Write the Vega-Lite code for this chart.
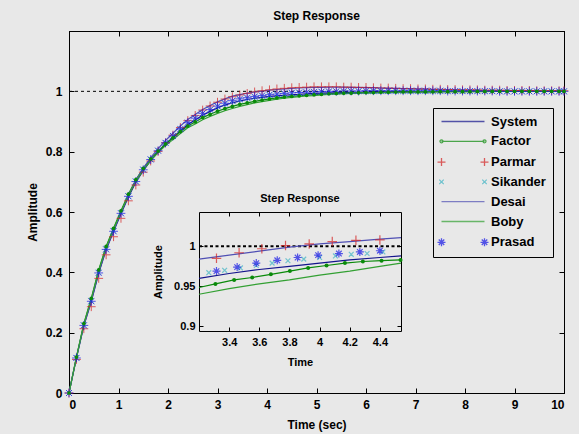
{
  "$schema": "https://vega.github.io/schema/vega-lite/v6.json",
  "width": 495,
  "height": 362,
  "autosize": "none",
  "padding": {"left": 69, "top": 31, "right": 15, "bottom": 41},
  "background": "#e8e8e8",
  "title": {"text": "Step Response", "fontSize": 12, "fontWeight": "bold", "font": "Liberation Sans", "color": "#000", "offset": 8},
  "config": {
    "font": "Liberation Sans",
    "view": {"stroke": "#000", "strokeWidth": 1, "fill": "#e8e8e8"},
    "axis": {"domainColor": "#000", "tickColor": "#000", "labelColor": "#000", "titleColor": "#000", "labelFont": "Liberation Sans", "titleFont": "Liberation Sans", "labelFontWeight": "bold", "titleFontWeight": "bold", "grid": false}
  },
  "datasets": {
    "main": [
      {"t":0,"System":0,"Factor":0,"Parmar":0,"Sikander":0,"Desai":0,"Boby":0,"Prasad":0},
      {"t":0.15,"System":0.116,"Factor":0.119,"Parmar":0.111,"Sikander":0.117,"Desai":0.117,"Boby":0.1185,"Prasad":0.116},
      {"t":0.3,"System":0.223,"Factor":0.23,"Parmar":0.213,"Sikander":0.225,"Desai":0.225,"Boby":0.228,"Prasad":0.224},
      {"t":0.45,"System":0.303,"Factor":0.314,"Parmar":0.286,"Sikander":0.306,"Desai":0.306,"Boby":0.311,"Prasad":0.304},
      {"t":0.6,"System":0.397,"Factor":0.408,"Parmar":0.38,"Sikander":0.4,"Desai":0.4,"Boby":0.405,"Prasad":0.398},
      {"t":0.75,"System":0.475,"Factor":0.486,"Parmar":0.458,"Sikander":0.478,"Desai":0.478,"Boby":0.483,"Prasad":0.476},
      {"t":0.9,"System":0.535,"Factor":0.546,"Parmar":0.518,"Sikander":0.538,"Desai":0.538,"Boby":0.543,"Prasad":0.536},
      {"t":1.05,"System":0.594,"Factor":0.604,"Parmar":0.579,"Sikander":0.597,"Desai":0.598,"Boby":0.6005,"Prasad":0.5955},
      {"t":1.2,"System":0.65,"Factor":0.659,"Parmar":0.637,"Sikander":0.653,"Desai":0.655,"Boby":0.655,"Prasad":0.652},
      {"t":1.35,"System":0.6985,"Factor":0.707,"Parmar":0.6895,"Sikander":0.702,"Desai":0.705,"Boby":0.702,"Prasad":0.701},
      {"t":1.5,"System":0.737,"Factor":0.745,"Parmar":0.732,"Sikander":0.741,"Desai":0.745,"Boby":0.739,"Prasad":0.74},
      {"t":1.65,"System":0.7705,"Factor":0.776,"Parmar":0.769,"Sikander":0.775,"Desai":0.78,"Boby":0.7705,"Prasad":0.774},
      {"t":1.8,"System":0.799,"Factor":0.802,"Parmar":0.801,"Sikander":0.804,"Desai":0.81,"Boby":0.797,"Prasad":0.803},
      {"t":1.95,"System":0.8245,"Factor":0.8255,"Parmar":0.8295,"Sikander":0.8295,"Desai":0.837,"Boby":0.82,"Prasad":0.829},
      {"t":2.1,"System":0.847,"Factor":0.846,"Parmar":0.855,"Sikander":0.852,"Desai":0.861,"Boby":0.84,"Prasad":0.852},
      {"t":2.25,"System":0.8695,"Factor":0.8665,"Parmar":0.88,"Sikander":0.875,"Desai":0.885,"Boby":0.8605,"Prasad":0.875},
      {"t":2.4,"System":0.89,"Factor":0.885,"Parmar":0.903,"Sikander":0.896,"Desai":0.907,"Boby":0.879,"Prasad":0.896},
      {"t":2.55,"System":0.905,"Factor":0.8985,"Parmar":0.92,"Sikander":0.911,"Desai":0.923,"Boby":0.892,"Prasad":0.911},
      {"t":2.7,"System":0.921,"Factor":0.913,"Parmar":0.938,"Sikander":0.927,"Desai":0.94,"Boby":0.906,"Prasad":0.927},
      {"t":2.85,"System":0.9335,"Factor":0.924,"Parmar":0.9515,"Sikander":0.939,"Desai":0.953,"Boby":0.917,"Prasad":0.9395},
      {"t":3,"System":0.945,"Factor":0.934,"Parmar":0.964,"Sikander":0.95,"Desai":0.965,"Boby":0.927,"Prasad":0.951},
      {"t":3.15,"System":0.9545,"Factor":0.9425,"Parmar":0.9745,"Sikander":0.959,"Desai":0.975,"Boby":0.9355,"Prasad":0.9605},
      {"t":3.3,"System":0.962,"Factor":0.95,"Parmar":0.982,"Sikander":0.967,"Desai":0.984,"Boby":0.943,"Prasad":0.969},
      {"t":3.45,"System":0.968,"Factor":0.957,"Parmar":0.988,"Sikander":0.972,"Desai":0.989,"Boby":0.95,"Prasad":0.975},
      {"t":3.6,"System":0.973,"Factor":0.962,"Parmar":0.993,"Sikander":0.977,"Desai":0.994,"Boby":0.956,"Prasad":0.979},
      {"t":3.75,"System":0.977,"Factor":0.967,"Parmar":0.998,"Sikander":0.981,"Desai":0.998,"Boby":0.962,"Prasad":0.983},
      {"t":3.9,"System":0.98,"Factor":0.971,"Parmar":1.002,"Sikander":0.984,"Desai":1.001,"Boby":0.966,"Prasad":0.986},
      {"t":4.05,"System":0.983,"Factor":0.975,"Parmar":1.005,"Sikander":0.987,"Desai":1.004,"Boby":0.97,"Prasad":0.989},
      {"t":4.2,"System":0.985,"Factor":0.978,"Parmar":1.008,"Sikander":0.989,"Desai":1.006,"Boby":0.974,"Prasad":0.991},
      {"t":4.35,"System":0.987,"Factor":0.981,"Parmar":1.01,"Sikander":0.991,"Desai":1.008,"Boby":0.977,"Prasad":0.993},
      {"t":4.5,"System":0.989,"Factor":0.983,"Parmar":1.012,"Sikander":0.993,"Desai":1.01,"Boby":0.98,"Prasad":0.995},
      {"t":4.65,"System":0.99,"Factor":0.985,"Parmar":1.013,"Sikander":0.994,"Desai":1.011,"Boby":0.982,"Prasad":0.996},
      {"t":4.8,"System":0.992,"Factor":0.987,"Parmar":1.014,"Sikander":0.996,"Desai":1.012,"Boby":0.985,"Prasad":0.997},
      {"t":4.95,"System":0.993,"Factor":0.989,"Parmar":1.015,"Sikander":0.997,"Desai":1.013,"Boby":0.986,"Prasad":0.998},
      {"t":5.1,"System":0.994,"Factor":0.99,"Parmar":1.015,"Sikander":0.998,"Desai":1.013,"Boby":0.988,"Prasad":0.999},
      {"t":5.25,"System":0.995,"Factor":0.992,"Parmar":1.015,"Sikander":0.998,"Desai":1.014,"Boby":0.99,"Prasad":1},
      {"t":5.4,"System":0.995,"Factor":0.993,"Parmar":1.015,"Sikander":0.999,"Desai":1.014,"Boby":0.991,"Prasad":1},
      {"t":5.55,"System":0.996,"Factor":0.994,"Parmar":1.014,"Sikander":0.999,"Desai":1.014,"Boby":0.992,"Prasad":1.001},
      {"t":5.7,"System":0.997,"Factor":0.994,"Parmar":1.014,"Sikander":1,"Desai":1.013,"Boby":0.993,"Prasad":1.001},
      {"t":5.85,"System":0.997,"Factor":0.995,"Parmar":1.013,"Sikander":1,"Desai":1.013,"Boby":0.994,"Prasad":1.001},
      {"t":6,"System":0.9975,"Factor":0.996,"Parmar":1.013,"Sikander":1,"Desai":1.012,"Boby":0.995,"Prasad":1.002},
      {"t":6.15,"System":0.998,"Factor":0.996,"Parmar":1.012,"Sikander":1,"Desai":1.012,"Boby":0.995,"Prasad":1.002},
      {"t":6.3,"System":0.998,"Factor":0.997,"Parmar":1.011,"Sikander":1,"Desai":1.011,"Boby":0.996,"Prasad":1.002},
      {"t":6.45,"System":0.998,"Factor":0.997,"Parmar":1.011,"Sikander":1,"Desai":1.01,"Boby":0.996,"Prasad":1.002},
      {"t":6.6,"System":0.999,"Factor":0.9975,"Parmar":1.01,"Sikander":1,"Desai":1.01,"Boby":0.997,"Prasad":1.002},
      {"t":6.75,"System":0.999,"Factor":0.998,"Parmar":1.009,"Sikander":1,"Desai":1.009,"Boby":0.997,"Prasad":1.002},
      {"t":6.9,"System":0.999,"Factor":0.998,"Parmar":1.009,"Sikander":1,"Desai":1.008,"Boby":0.9975,"Prasad":1.002},
      {"t":7.05,"System":0.999,"Factor":0.998,"Parmar":1.008,"Sikander":1,"Desai":1.007,"Boby":0.998,"Prasad":1.002},
      {"t":7.2,"System":0.999,"Factor":0.998,"Parmar":1.008,"Sikander":1,"Desai":1.007,"Boby":0.998,"Prasad":1.002},
      {"t":7.35,"System":0.9995,"Factor":0.9985,"Parmar":1.007,"Sikander":1,"Desai":1.006,"Boby":0.998,"Prasad":1.002},
      {"t":7.5,"System":0.9995,"Factor":0.9987,"Parmar":1.007,"Sikander":1,"Desai":1.005,"Boby":0.9985,"Prasad":1.002},
      {"t":7.65,"System":1,"Factor":0.999,"Parmar":1.006,"Sikander":1,"Desai":1.005,"Boby":0.9987,"Prasad":1.001},
      {"t":7.8,"System":1,"Factor":0.999,"Parmar":1.006,"Sikander":1,"Desai":1.004,"Boby":0.999,"Prasad":1.001},
      {"t":7.95,"System":1,"Factor":0.999,"Parmar":1.005,"Sikander":1,"Desai":1.004,"Boby":0.999,"Prasad":1.001},
      {"t":8.1,"System":1,"Factor":0.999,"Parmar":1.005,"Sikander":1,"Desai":1.003,"Boby":0.999,"Prasad":1.001},
      {"t":8.25,"System":1,"Factor":0.9995,"Parmar":1.005,"Sikander":1,"Desai":1.003,"Boby":0.999,"Prasad":1.001},
      {"t":8.4,"System":1,"Factor":0.9995,"Parmar":1.004,"Sikander":1,"Desai":1.002,"Boby":0.9993,"Prasad":1.001},
      {"t":8.55,"System":1,"Factor":0.9995,"Parmar":1.004,"Sikander":1,"Desai":1.002,"Boby":0.9995,"Prasad":1.001},
      {"t":8.7,"System":1,"Factor":1,"Parmar":1.004,"Sikander":1,"Desai":1.002,"Boby":0.9995,"Prasad":1},
      {"t":8.85,"System":1,"Factor":1,"Parmar":1.003,"Sikander":1,"Desai":1.001,"Boby":0.9995,"Prasad":1},
      {"t":9,"System":1,"Factor":1,"Parmar":1.003,"Sikander":1,"Desai":1.001,"Boby":0.9996,"Prasad":1},
      {"t":9.15,"System":1,"Factor":1,"Parmar":1.003,"Sikander":1,"Desai":1.001,"Boby":0.9997,"Prasad":1},
      {"t":9.3,"System":1,"Factor":1,"Parmar":1.003,"Sikander":1,"Desai":1.001,"Boby":0.9997,"Prasad":1},
      {"t":9.45,"System":1,"Factor":1,"Parmar":1.002,"Sikander":1,"Desai":1,"Boby":0.9998,"Prasad":1},
      {"t":9.6,"System":1,"Factor":1,"Parmar":1.002,"Sikander":1,"Desai":1,"Boby":0.9998,"Prasad":1},
      {"t":9.75,"System":1,"Factor":1,"Parmar":1.002,"Sikander":1,"Desai":1,"Boby":0.9998,"Prasad":1},
      {"t":9.9,"System":1,"Factor":1,"Parmar":1.002,"Sikander":1,"Desai":1,"Boby":0.9999,"Prasad":1},
      {"t":10,"System":1,"Factor":1,"Parmar":1.002,"Sikander":1,"Desai":1,"Boby":1,"Prasad":1}
    ],
    "inset": [
      {"s":"Desai","t":3.2,"y":0.984},{"s":"Desai","t":3.4,"y":0.989},{"s":"Desai","t":3.6,"y":0.994},{"s":"Desai","t":3.8,"y":0.999},{"s":"Desai","t":4.0,"y":1.003},{"s":"Desai","t":4.2,"y":1.006},{"s":"Desai","t":4.4,"y":1.009},{"s":"Desai","t":4.54,"y":1.011},
      {"s":"System","t":3.2,"y":0.96},{"s":"System","t":3.4,"y":0.966},{"s":"System","t":3.6,"y":0.971},{"s":"System","t":3.8,"y":0.975},{"s":"System","t":4.0,"y":0.979},{"s":"System","t":4.2,"y":0.983},{"s":"System","t":4.4,"y":0.986},{"s":"System","t":4.54,"y":0.988},
      {"s":"Boby","t":3.2,"y":0.94},{"s":"Boby","t":3.4,"y":0.947},{"s":"Boby","t":3.6,"y":0.953},{"s":"Boby","t":3.8,"y":0.958},{"s":"Boby","t":4.0,"y":0.964},{"s":"Boby","t":4.2,"y":0.969},{"s":"Boby","t":4.4,"y":0.975},{"s":"Boby","t":4.54,"y":0.979},
      {"s":"Factor","t":3.2,"y":0.9485},{"s":"Factor","t":3.309,"y":0.953},{"s":"Factor","t":3.433,"y":0.958},{"s":"Factor","t":3.553,"y":0.961},{"s":"Factor","t":3.677,"y":0.965},{"s":"Factor","t":3.803,"y":0.969},{"s":"Factor","t":3.924,"y":0.973},{"s":"Factor","t":4.046,"y":0.976},{"s":"Factor","t":4.168,"y":0.979},{"s":"Factor","t":4.287,"y":0.981},{"s":"Factor","t":4.411,"y":0.982},{"s":"Factor","t":4.537,"y":0.983},
      {"s":"Parmar","t":3.316,"y":0.985},{"s":"Parmar","t":3.466,"y":0.992},{"s":"Parmar","t":3.617,"y":0.997},{"s":"Parmar","t":3.774,"y":1.001},{"s":"Parmar","t":3.931,"y":1.003},{"s":"Parmar","t":4.084,"y":1.006},{"s":"Parmar","t":4.241,"y":1.0075},{"s":"Parmar","t":4.4,"y":1.008},
      {"s":"Sikander","t":3.265,"y":0.967},{"s":"Sikander","t":3.37,"y":0.97},{"s":"Sikander","t":3.475,"y":0.973},{"s":"Sikander","t":3.58,"y":0.976},{"s":"Sikander","t":3.685,"y":0.979},{"s":"Sikander","t":3.79,"y":0.982},{"s":"Sikander","t":3.895,"y":0.984},{"s":"Sikander","t":4.0,"y":0.986},{"s":"Sikander","t":4.105,"y":0.988},{"s":"Sikander","t":4.21,"y":0.99},{"s":"Sikander","t":4.315,"y":0.991},{"s":"Sikander","t":4.42,"y":0.993},
      {"s":"Prasad","t":3.316,"y":0.969},{"s":"Prasad","t":3.453,"y":0.974},{"s":"Prasad","t":3.58,"y":0.979},{"s":"Prasad","t":3.719,"y":0.9825},{"s":"Prasad","t":3.854,"y":0.986},{"s":"Prasad","t":3.99,"y":0.989},{"s":"Prasad","t":4.128,"y":0.991},{"s":"Prasad","t":4.267,"y":0.993},{"s":"Prasad","t":4.4,"y":0.9945}
    ]
  },
  "layer": [
    {
      "data": {"name": "main"},
      "transform": [{"fold": ["System","Factor","Parmar","Sikander","Desai","Boby","Prasad"], "as": ["s","y"]}],
      "layer": [
        {
          "data": {"values": [{}]},
          "mark": {"type": "rule", "color": "#000", "strokeDash": [3,3], "strokeWidth": 1},
          "encoding": {"y": {"datum": 1, "type": "quantitative", "axis": null}}
        },
        {
          "transform": [{"filter": {"field": "s", "oneOf": ["System","Factor","Desai","Boby"]}}],
          "mark": {"type": "line", "strokeWidth": 1.2},
          "encoding": {
            "x": {"field": "t", "type": "quantitative", "scale": {"domain": [0,10], "nice": false},
                  "axis": {"orient": "bottom", "values": [0,1,2,3,4,5,6,7,8,9,10], "labelFontSize": 12, "tickSize": -5, "labelPadding": 11, "title": "Time (sec)", "titleFontSize": 12, "titlePadding": 9}},
            "y": {"field": "y", "type": "quantitative", "scale": {"domain": [0,1.2], "nice": false},
                  "axis": {"orient": "left", "values": [0,0.2,0.4,0.6,0.8,1], "format": "~g", "labelFontSize": 12, "tickSize": -5, "labelPadding": 12, "title": "Amplitude", "titleFontSize": 12, "titlePadding": 6}},
            "color": {"field": "s", "type": "nominal", "legend": null,
                      "scale": {"domain": ["System","Factor","Parmar","Sikander","Desai","Boby","Prasad"], "range": ["#14148c","#0a8a0a","#d42020","#3fb4c4","#5050b4","#33a033","#1414e6"]}}
          }
        },
        {
          "transform": [{"filter": {"field": "s", "oneOf": ["Parmar","Sikander","Prasad"]}}],
          "mark": {"type": "point", "filled": false, "strokeWidth": 1, "size": 64},
          "encoding": {
            "x": {"field": "t", "type": "quantitative", "axis": {"orient": "top", "values": [0,1,2,3,4,5,6,7,8,9,10], "labels": false, "tickSize": -5, "title": null}},
            "y": {"field": "y", "type": "quantitative", "axis": {"orient": "right", "values": [0,0.2,0.4,0.6,0.8,1,1.2], "labels": false, "tickSize": -5, "title": null}},
            "color": {"field": "s", "type": "nominal", "legend": null},
            "shape": {"field": "s", "type": "nominal", "legend": null,
                      "scale": {"domain": ["Parmar","Sikander","Prasad"], "range": ["M-1.1,0H1.1M0,-1.1V1.1", "M-0.7,-0.7L0.7,0.7M-0.7,0.7L0.7,-0.7", "M-1.1,0H1.1M0,-1.1V1.1M-0.75,-0.75L0.75,0.75M-0.75,0.75L0.75,-0.75"]}}
          }
        },
        {
          "transform": [{"filter": {"field": "s", "equal": "Factor"}}],
          "mark": {"type": "circle", "size": 14, "opacity": 1},
          "encoding": {
            "x": {"field": "t", "type": "quantitative", "axis": null},
            "y": {"field": "y", "type": "quantitative", "axis": null},
            "color": {"field": "s", "type": "nominal", "legend": null}
          }
        }
      ],
      "resolve": {"axis": {"x": "independent", "y": "independent"}}
    },
    {
      "data": {"name": "inset"},
      "layer": [
        {
          "data": {"values": [{}]},
          "mark": {"type": "rule", "color": "#000", "strokeDash": [3,2.5], "strokeWidth": 2},
          "encoding": {
            "x": {"datum": 3.2, "type": "quantitative", "axis": null},
            "x2": {"datum": 4.54},
            "y": {"datum": 1, "type": "quantitative", "axis": null}
          }
        },
        {
          "transform": [{"filter": {"field": "s", "oneOf": ["System","Factor","Desai","Boby"]}}],
          "mark": {"type": "line", "strokeWidth": 1.2},
          "encoding": {
            "x": {"field": "t", "type": "quantitative", "scale": {"domain": [3.2,4.54], "range": [130,332], "nice": false, "zero": false},
                  "axis": {"orient": "bottom", "offset": -62, "values": [3.4,3.6,3.8,4,4.2,4.4], "format": "~g", "labelFontSize": 11, "tickSize": -4, "labelPadding": 9, "title": "Time", "titleFontSize": 11, "titlePadding": 9}},
            "y": {"field": "y", "type": "quantitative", "scale": {"domain": [0.894,1.043], "range": [300,181], "nice": false, "zero": false},
                  "axis": {"orient": "left", "offset": -130, "values": [0.9,0.95,1], "format": "~g", "labelFontSize": 11, "tickSize": -4, "labelPadding": 8, "title": "Amplitude", "titleFontSize": 11, "titlePadding": 10}},
            "color": {"field": "s", "type": "nominal", "legend": null,
                      "scale": {"domain": ["System","Factor","Parmar","Sikander","Desai","Boby","Prasad"], "range": ["#14148c","#0a8a0a","#d42020","#3fb4c4","#5050b4","#33a033","#1414e6"]}}
          }
        },
        {
          "transform": [{"filter": {"field": "s", "oneOf": ["Parmar","Sikander","Prasad"]}}],
          "mark": {"type": "point", "filled": false, "strokeWidth": 1.2, "size": 64},
          "encoding": {
            "x": {"field": "t", "type": "quantitative", "axis": {"orient": "top", "offset": -181, "values": [3.4,3.6,3.8,4,4.2,4.4], "labels": false, "tickSize": -4, "title": null}},
            "y": {"field": "y", "type": "quantitative", "axis": {"orient": "right", "offset": -163, "values": [0.9,0.95,1], "labels": false, "tickSize": -4, "title": null}},
            "color": {"field": "s", "type": "nominal", "legend": null},
            "shape": {"field": "s", "type": "nominal", "legend": null,
                      "scale": {"domain": ["Parmar","Sikander","Prasad"], "range": ["M-1.2,0H1.2M0,-1.2V1.2", "M-0.6,-0.6L0.6,0.6M-0.6,0.6L0.6,-0.6", "M-1,0H1M0,-1V1M-0.7,-0.7L0.7,0.7M-0.7,0.7L0.7,-0.7"]}}
          }
        },
        {
          "transform": [{"filter": "datum.s === 'Factor' && datum.t > 3.25"}],
          "mark": {"type": "circle", "size": 16, "opacity": 1},
          "encoding": {
            "x": {"field": "t", "type": "quantitative", "axis": null},
            "y": {"field": "y", "type": "quantitative", "axis": null},
            "color": {"field": "s", "type": "nominal", "legend": null}
          }
        },
        {
          "data": {"values": [{}]},
          "mark": {"type": "text", "text": "Step Response", "fontSize": 11, "fontWeight": "bold", "color": "#000", "baseline": "middle", "dy": -13},
          "encoding": {
            "x": {"datum": 3.87, "type": "quantitative", "axis": null},
            "y": {"datum": 1.043, "type": "quantitative", "axis": null}
          }
        }
      ],
      "resolve": {"axis": {"x": "independent", "y": "independent"}}
    },
    {
      "data": {"values": []},
      "mark": {"type": "point", "filled": false},
      "encoding": {
        "color": {"field": "s", "type": "nominal",
                  "scale": {"domain": ["System","Factor","Parmar","Sikander","Desai","Boby","Prasad"], "range": ["#14148c","#0a8a0a","#d42020","#3fb4c4","#5050b4","#33a033","#1414e6"]},
                  "legend": {"orient": "none", "legendX": 364, "legendY": 77, "title": null, "padding": 7, "strokeColor": "#000", "fillColor": "#e8e8e8", "symbolSize": 100, "symbolStrokeWidth": 1.3, "labelFontSize": 13, "labelFontWeight": "bold", "labelColor": "#000", "labelFont": "Liberation Sans", "labelOffset": 38, "rowPadding": 5.8}},
        "shape": {"field": "s", "type": "nominal",
                  "scale": {"domain": ["System","Factor","Parmar","Sikander","Desai","Boby","Prasad"],
                            "range": ["M-1,0H7.6",
                                      "M-1,0H7.6M-1.3,0A0.3,0.3,0,1,0,-0.7,0A0.3,0.3,0,1,0,-1.3,0M7.3,0A0.3,0.3,0,1,0,7.9,0A0.3,0.3,0,1,0,7.3,0",
                                      "M-1.8,0H-0.2M-1,-0.8V0.8M6.8,0H8.4M7.6,-0.8V0.8",
                                      "M-1.45,-0.45L-0.55,0.45M-1.45,0.45L-0.55,-0.45M7.15,-0.45L8.05,0.45M7.15,0.45L8.05,-0.45",
                                      "M-1,0H7.6",
                                      "M-1,0H7.6",
                                      "M-1.8,0H-0.2M-1,-0.8V0.8M-1.55,-0.55L-0.45,0.55M-1.55,0.55L-0.45,-0.55M6.8,0H8.4M7.6,-0.8V0.8M7.05,-0.55L8.15,0.55M7.05,0.55L8.15,-0.55"]}}
      }
    }
  ],
  "resolve": {
    "scale": {"x": "independent", "y": "independent", "color": "independent", "shape": "independent"},
    "axis": {"x": "independent", "y": "independent"}
  }
}
